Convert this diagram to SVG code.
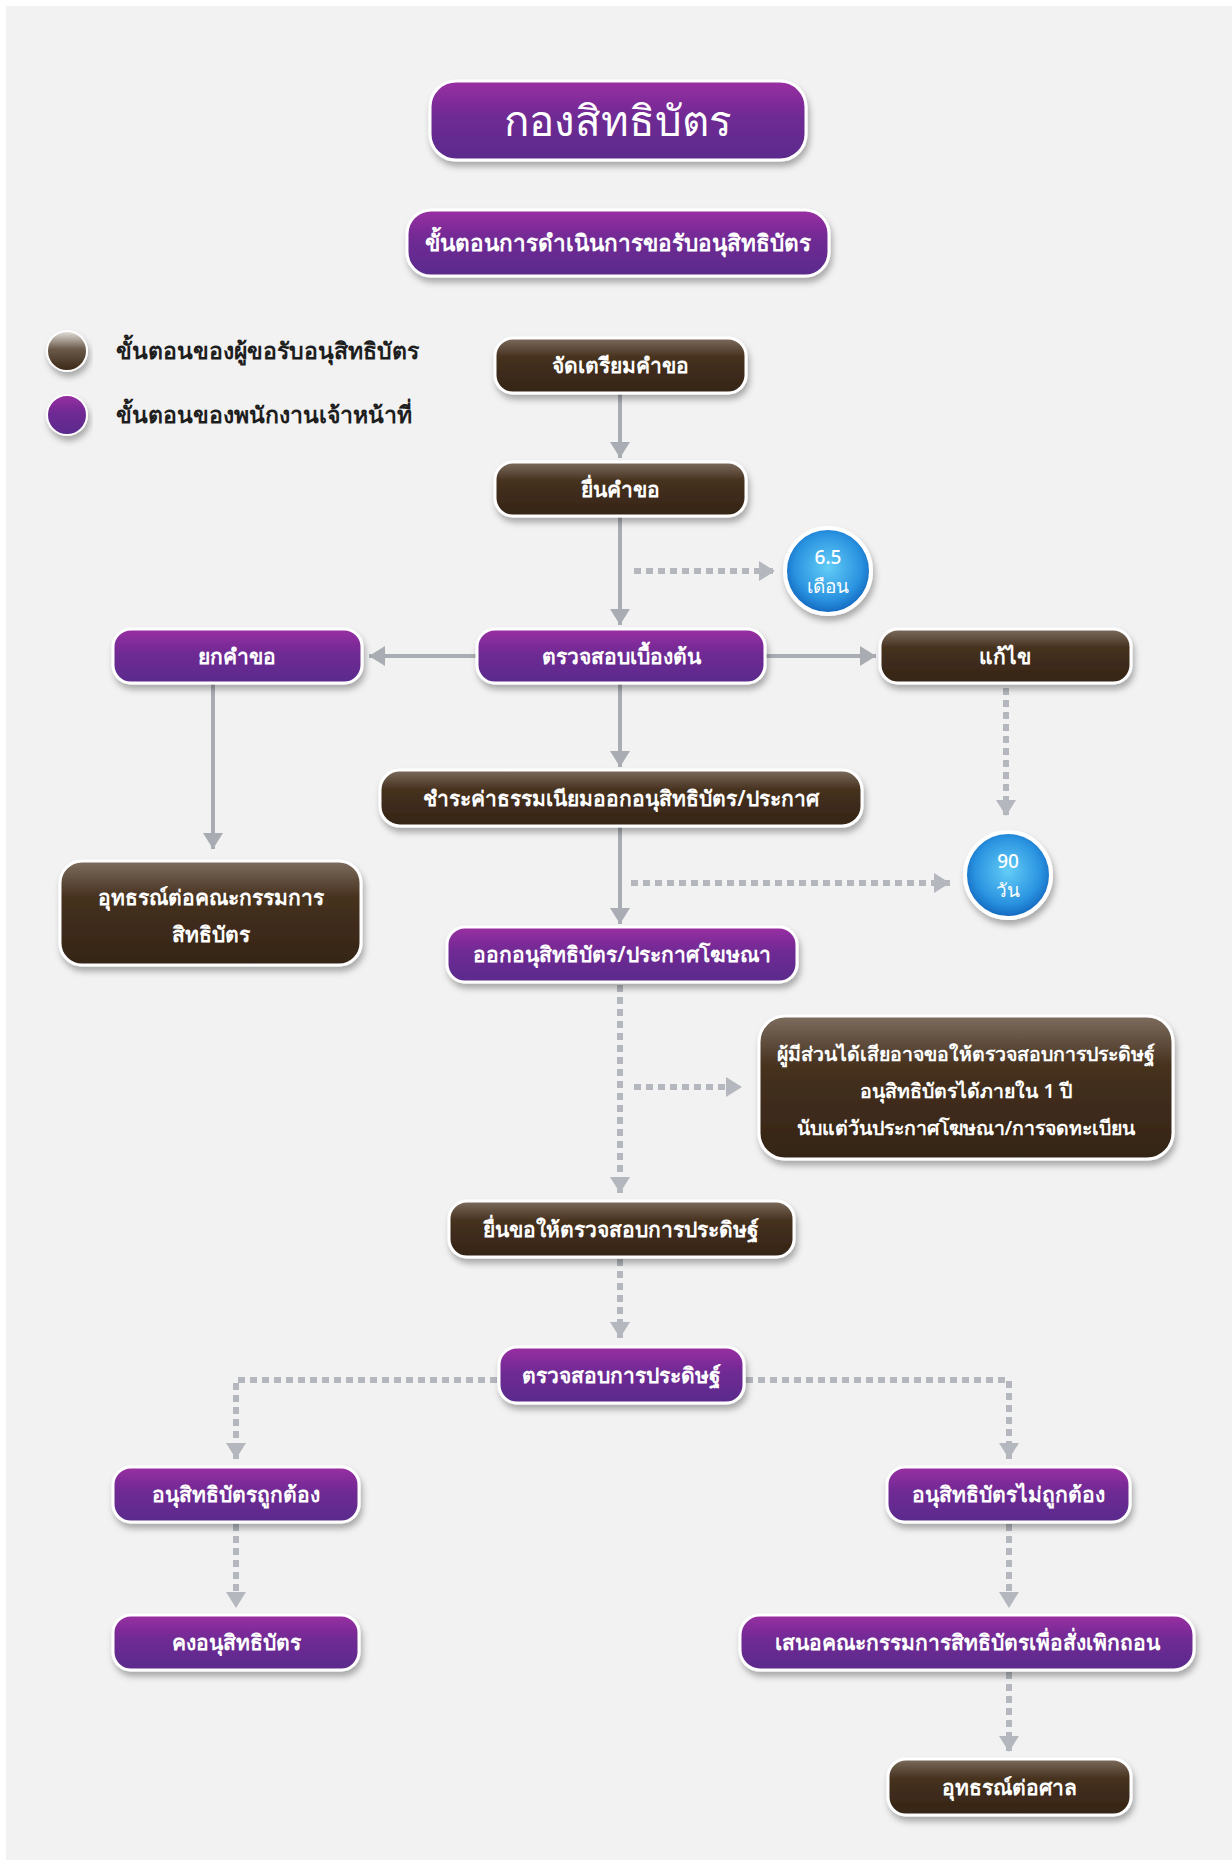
<svg xmlns="http://www.w3.org/2000/svg" width="1232" height="1860" viewBox="0 0 1232 1860">
<defs>
<linearGradient id="gP" x1="0" y1="0" x2="0" y2="1">
<stop offset="0" stop-color="#9a2ea2"/><stop offset="0.45" stop-color="#6f2b94"/><stop offset="1" stop-color="#5a2c8c"/>
</linearGradient>
<linearGradient id="gB" x1="0" y1="0" x2="0" y2="1">
<stop offset="0" stop-color="#7d6d5e"/><stop offset="0.35" stop-color="#46311f"/><stop offset="1" stop-color="#342416"/>
</linearGradient>
<linearGradient id="gLB" x1="0" y1="0" x2="0" y2="1">
<stop offset="0" stop-color="#e8e4e0"/><stop offset="0.45" stop-color="#6b5a4a"/><stop offset="1" stop-color="#3a2716"/>
</linearGradient>
<radialGradient id="gC" cx="0.5" cy="0.45" r="0.55">
<stop offset="0" stop-color="#63cdf7"/><stop offset="0.7" stop-color="#2a93e0"/><stop offset="1" stop-color="#1265bd"/>
</radialGradient>
<filter id="sh" x="-10%" y="-20%" width="125%" height="150%">
<feDropShadow dx="2" dy="5" stdDeviation="3" flood-color="#000" flood-opacity="0.3"/>
</filter>
<marker id="ah" markerWidth="20" markerHeight="22" refX="16" refY="11" orient="auto" markerUnits="userSpaceOnUse">
<path d="M0,1 L16,11 L0,21 z" fill="#a9adb3"/>
</marker>
<marker id="ad" markerWidth="22" markerHeight="22" refX="16" refY="11" orient="auto" markerUnits="userSpaceOnUse">
<path d="M0,1 L16,11 L0,21 z" fill="#b4b8be"/>
</marker>
</defs>
<style>
.p{fill:url(#gP);stroke:#fff;stroke-width:3;filter:url(#sh)}
.b{fill:url(#gB);stroke:#fff;stroke-width:3;filter:url(#sh)}
.t{fill:#fff;font-family:"Noto Sans","DejaVu Sans",sans-serif;font-size:21px;font-weight:600;text-anchor:middle}
.sm{font-size:19px;font-weight:500}
.it{font-size:19.5px}
.lg{fill:#1e1e1e;font-family:"Noto Sans","DejaVu Sans",sans-serif;font-size:23px;font-weight:700}
.s{fill:none;stroke:#a9adb3;stroke-width:4}
.d{fill:none;stroke:#b4b8be;stroke-width:6;stroke-dasharray:7 5}
.c{fill:url(#gC);stroke:#fff;stroke-width:4;filter:url(#sh)}
</style>
<rect x="0" y="0" width="1232" height="1860" fill="#ffffff"/>
<rect x="6" y="6" width="1226" height="1854" fill="#f2f2f2"/>

<g id="connectors">
<path class="s" d="M620,393 V458" marker-end="url(#ah)"/>
<path class="s" d="M620,516 V625" marker-end="url(#ah)"/>
<path class="d" d="M634,571 H775" marker-end="url(#ad)"/>
<path class="s" d="M477,656 H369" marker-end="url(#ah)"/>
<path class="s" d="M765,656 H876" marker-end="url(#ah)"/>
<path class="s" d="M213,683 V849" marker-end="url(#ah)"/>
<path class="s" d="M620,683 V767" marker-end="url(#ah)"/>
<path class="d" d="M1006,688 V816" marker-end="url(#ad)"/>
<path class="s" d="M620,826 V924" marker-end="url(#ah)"/>
<path class="d" d="M631,883 H950" marker-end="url(#ad)"/>
<path class="d" d="M620,985 V1193" marker-end="url(#ad)"/>
<path class="d" d="M634,1087 H742" marker-end="url(#ad)"/>
<path class="d" d="M620,1259 V1338" marker-end="url(#ad)"/>
<path class="d" d="M497,1380 H236 V1459" marker-end="url(#ad)"/>
<path class="d" d="M746,1380 H1009 V1459" marker-end="url(#ad)"/>
<path class="d" d="M236,1524 V1608" marker-end="url(#ad)"/>
<path class="d" d="M1009,1524 V1608" marker-end="url(#ad)"/>
<path class="d" d="M1009,1672 V1752" marker-end="url(#ad)"/>
</g>

<g id="title">
<rect class="p" x="430" y="81" width="376" height="79" rx="26"/>
<text x="618" y="136" fill="#fff" font-family="'Noto Sans','DejaVu Sans',sans-serif" font-size="42" text-anchor="middle">กองสิทธิบัตร</text>
</g>
<g id="subtitle">
<rect class="p" x="407" y="210" width="422" height="66" rx="24"/>
<text class="t" x="618" y="251" style="font-size:22.5px">ขั้นตอนการดำเนินการขอรับอนุสิทธิบัตร</text>
</g>

<g id="legend-applicant">
<circle cx="67" cy="351" r="20" fill="url(#gLB)" stroke="#fff" stroke-width="2" filter="url(#sh)"/>
<text class="lg" x="116" y="359">ขั้นตอนของผู้ขอรับอนุสิทธิบัตร</text>
</g>
<g id="legend-officer">
<circle cx="67" cy="415" r="20" fill="url(#gP)" stroke="#fff" stroke-width="2" filter="url(#sh)"/>
<text class="lg" x="116" y="423">ขั้นตอนของพนักงานเจ้าหน้าที่</text>
</g>

<g id="n-prepare">
<rect class="b" x="495" y="338" width="251" height="55" rx="18"/>
<text class="t" x="620" y="373">จัดเตรียมคำขอ</text>
</g>
<g id="n-submit">
<rect class="b" x="495" y="462" width="251" height="54" rx="18"/>
<text class="t" x="620" y="497">ยื่นคำขอ</text>
</g>
<g id="n-65">
<circle class="c" cx="828" cy="571" r="43"/>
<text class="t sm" x="828" y="564">6.5</text>
<text class="t sm" x="828" y="593">เดือน</text>
</g>
<g id="n-precheck">
<rect class="p" x="477" y="629" width="288" height="54" rx="18"/>
<text class="t" x="621" y="664">ตรวจสอบเบื้องต้น</text>
</g>
<g id="n-reject">
<rect class="p" x="113" y="629" width="249" height="54" rx="18"/>
<text class="t" x="237" y="664">ยกคำขอ</text>
</g>
<g id="n-fix">
<rect class="b" x="880" y="629" width="251" height="54" rx="18"/>
<text class="t" x="1005" y="664">แก้ไข</text>
</g>
<g id="n-fee">
<rect class="b" x="380" y="770" width="482" height="56" rx="20"/>
<text class="t" x="621" y="806">ชำระค่าธรรมเนียมออกอนุสิทธิบัตร/ประกาศ</text>
</g>
<g id="n-appeal-board">
<rect class="b" x="60" y="861" width="301" height="104" rx="22"/>
<text class="t" x="211" y="905">อุทธรณ์ต่อคณะกรรมการ</text>
<text class="t" x="211" y="942">สิทธิบัตร</text>
</g>
<g id="n-90">
<circle class="c" cx="1008" cy="875" r="43"/>
<text class="t sm" x="1008" y="868">90</text>
<text class="t sm" x="1008" y="897">วัน</text>
</g>
<g id="n-issue">
<rect class="p" x="447" y="927" width="350" height="55" rx="18"/>
<text class="t" x="622" y="962">ออกอนุสิทธิบัตร/ประกาศโฆษณา</text>
</g>
<g id="n-interested">
<rect class="b" x="759" y="1016" width="414" height="143" rx="26"/>
<text class="t it" x="966" y="1061">ผู้มีส่วนได้เสียอาจขอให้ตรวจสอบการประดิษฐ์</text>
<text class="t it" x="966" y="1098">อนุสิทธิบัตรได้ภายใน 1 ปี</text>
<text class="t it" x="966" y="1135">นับแต่วันประกาศโฆษณา/การจดทะเบียน</text>
</g>
<g id="n-request-exam">
<rect class="b" x="449" y="1201" width="345" height="56" rx="18"/>
<text class="t" x="621" y="1237">ยื่นขอให้ตรวจสอบการประดิษฐ์</text>
</g>
<g id="n-exam">
<rect class="p" x="499" y="1347" width="245" height="56" rx="18"/>
<text class="t" x="621" y="1383">ตรวจสอบการประดิษฐ์</text>
</g>
<g id="n-valid">
<rect class="p" x="113" y="1467" width="246" height="55" rx="18"/>
<text class="t" x="236" y="1502">อนุสิทธิบัตรถูกต้อง</text>
</g>
<g id="n-invalid">
<rect class="p" x="887" y="1467" width="243" height="55" rx="18"/>
<text class="t" x="1008" y="1502">อนุสิทธิบัตรไม่ถูกต้อง</text>
</g>
<g id="n-keep">
<rect class="p" x="113" y="1615" width="246" height="55" rx="18"/>
<text class="t" x="236" y="1650">คงอนุสิทธิบัตร</text>
</g>
<g id="n-revoke">
<rect class="p" x="740" y="1615" width="454" height="55" rx="20"/>
<text class="t" x="967" y="1650">เสนอคณะกรรมการสิทธิบัตรเพื่อสั่งเพิกถอน</text>
</g>
<g id="n-appeal-court">
<rect class="b" x="888" y="1759" width="243" height="56" rx="18"/>
<text class="t" x="1009" y="1795">อุทธรณ์ต่อศาล</text>
</g>
</svg>
